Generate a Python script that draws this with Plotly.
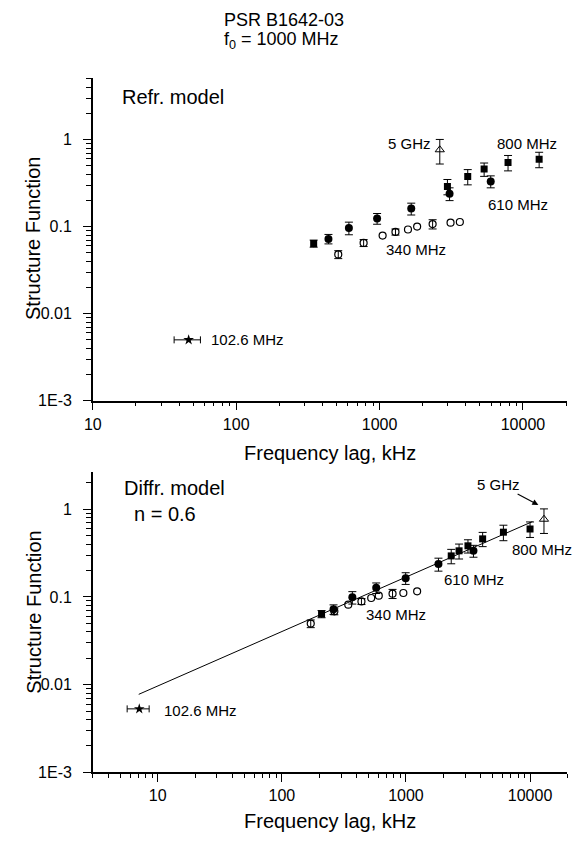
import plotly.graph_objects as go

# ---- top panel: refractive model ----
refr_sq_x = [347, 2973, 4120, 5360, 7870, 12970]          # 800 MHz
refr_sq_y = [0.064, 0.29, 0.377, 0.458, 0.547, 0.595]
refr_sq_err = [0.006, 0.058, 0.075, 0.08, 0.11, 0.12]

refr_fc_x = [440, 611, 961, 1663, 3077, 5960]              # 610 MHz
refr_fc_y = [0.0723, 0.0966, 0.124, 0.161, 0.239, 0.331]
refr_fc_err = [0.009, 0.016, 0.0175, 0.025, 0.04, 0.052]

refr_oc_x = [515, 774, 1050, 1291, 1578, 1828, 2344, 3126, 3630]   # 340 MHz
refr_oc_y = [0.0479, 0.065, 0.079, 0.0869, 0.0927, 0.100, 0.107, 0.111, 0.113]
refr_oc_err = [0.005, 0.006, None, 0.007, None, None, 0.013, None, None]

refr_tri_x = [2630]                                        # 5 GHz
refr_tri_y = [0.764]
refr_tri_err = [0.24]

refr_star_x = [46.6]                                       # 102.6 MHz
refr_star_y = [0.0050]
refr_star_xerr = [9.7]

# ---- bottom panel: diffractive model, n = 0.6 ----
diff_sq_x = [209, 2317, 2680, 3160, 4150, 6100, 10000]
diff_sq_y = [0.064, 0.294, 0.336, 0.383, 0.46, 0.548, 0.597]
diff_sq_err = [0.006, 0.055, 0.065, 0.066, 0.085, 0.11, 0.12]

diff_fc_x = [261, 370, 576, 995, 1828, 3500]
diff_fc_y = [0.0723, 0.099, 0.127, 0.164, 0.237, 0.336]
diff_fc_err = [0.009, 0.016, 0.0175, 0.025, 0.04, 0.052]

diff_oc_x = [171, 265, 343, 438, 525, 604, 780, 953, 1231]
diff_oc_y = [0.0497, 0.0686, 0.0817, 0.089, 0.0974, 0.1035, 0.109, 0.111, 0.116]
diff_oc_err = [0.005, 0.006, None, 0.007, None, None, 0.013, None, None]

diff_tri_x = [12950]
diff_tri_y = [0.77]
diff_tri_err = [0.24]

diff_star_x = [7.1]
diff_star_y = [0.0053]
diff_star_xerr = [1.43]

fit_x = [7.03, 10450]
fit_y = [0.00776, 0.723]

x_ticks = [10, 100, 1000, 10000]
x_ticktext = ["10", "100", "1000", "10000"]
y_ticks = [0.001, 0.01, 0.1, 1]
y_ticktext = ["1E-3", "0.01", "0.1", "1"]

FONT = "Liberation Sans, Arial, sans-serif"
W, H = 585, 843

minor_x = [m * 10 ** e for e in range(0, 5) for m in range(2, 10)]
minor_y = [m * 10 ** e for e in range(-3, 1) for m in range(2, 10)]


def px(x, y):
    # screen pixel -> paper coords (the page is drawn slightly offset)
    dx = -13
    dy = -6 + 6 * y / 822
    return (x + dx) / W, 1 - (y + dy) / H


def err(vals, w=4):
    return dict(type="data", array=vals, color="black", thickness=1, width=w)


def add_panel(fig, xa, ya, sq, fc, oc, tri, star):
    common = dict(xaxis=xa, yaxis=ya, showlegend=False, mode="markers")
    oc_marker = dict(symbol="circle-open", size=7, color="black", line=dict(width=1.2))
    # open circles: those with error bars and those without
    with_e = [i for i, e in enumerate(oc[2]) if e is not None]
    no_e = [i for i, e in enumerate(oc[2]) if e is None]
    fig.add_trace(go.Scatter(x=[oc[0][i] for i in with_e], y=[oc[1][i] for i in with_e],
                             error_y=err([oc[2][i] for i in with_e]),
                             marker=oc_marker, **common))
    fig.add_trace(go.Scatter(x=[oc[0][i] for i in no_e], y=[oc[1][i] for i in no_e],
                             marker=oc_marker, **common))
    fig.add_trace(go.Scatter(x=fc[0], y=fc[1], error_y=err(fc[2]),
                             marker=dict(symbol="circle", size=8, color="black"), **common))
    fig.add_trace(go.Scatter(x=sq[0], y=sq[1], error_y=err(sq[2]),
                             marker=dict(symbol="square", size=7, color="black"), **common))
    fig.add_trace(go.Scatter(x=tri[0], y=tri[1], error_y=err(tri[2]),
                             marker=dict(symbol="triangle-up-open", size=8, color="black",
                                         line=dict(width=1)), **common))
    fig.add_trace(go.Scatter(x=star[0], y=star[1], error_x=err(star[2], 3.5),
                             marker=dict(symbol="star", size=8, color="black"), **common))


fig = go.Figure()
add_panel(fig, "x", "y",
          (refr_sq_x, refr_sq_y, refr_sq_err),
          (refr_fc_x, refr_fc_y, refr_fc_err),
          (refr_oc_x, refr_oc_y, refr_oc_err),
          (refr_tri_x, refr_tri_y, refr_tri_err),
          (refr_star_x, refr_star_y, refr_star_xerr))
fig.add_trace(go.Scatter(x=fit_x, y=fit_y, mode="lines", xaxis="x2", yaxis="y2",
                         line=dict(color="black", width=1), showlegend=False))
add_panel(fig, "x2", "y2",
          (diff_sq_x, diff_sq_y, diff_sq_err),
          (diff_fc_x, diff_fc_y, diff_fc_err),
          (diff_oc_x, diff_oc_y, diff_oc_err),
          (diff_tri_x, diff_tri_y, diff_tri_err),
          (diff_star_x, diff_star_y, diff_star_xerr))

axis_style = dict(type="log", showline=True, linecolor="black", linewidth=1.5,
                  showgrid=False, zeroline=False, ticks="outside", ticklen=8,
                  tickwidth=1.3, tickcolor="black", tickfont=dict(size=16, color="black"))
xstyle = dict(axis_style, tickmode="array", tickvals=x_ticks, ticktext=x_ticktext,
              minor=dict(tickvals=minor_x, ticks="outside", ticklen=4,
                         tickwidth=1.2, tickcolor="black"))
ystyle = dict(axis_style, tickmode="array", tickvals=y_ticks, ticktext=y_ticktext,
              ticklabelstandoff=8,
              minor=dict(tickvals=minor_y, ticks="outside", ticklen=5,
                         tickwidth=1.2, tickcolor="black"))

x0, _ = px(90, 0)
x1, _ = px(572, 0)
_, top_hi = px(0, 76)
_, top_lo = px(0, 400)
_, bot_hi = px(0, 472)
_, bot_lo = px(0, 773)

fig.update_layout(
    width=W, height=H,
    margin=dict(l=0, r=0, t=0, b=0),
    paper_bgcolor="white", plot_bgcolor="white",
    font=dict(family=FONT, color="black"),
    xaxis=dict(xstyle, domain=[x0, x1], range=[1, 4.31], anchor="y"),
    yaxis=dict(ystyle, domain=[top_lo, top_hi], range=[-3, 0.71], anchor="x"),
    xaxis2=dict(xstyle, domain=[x0, x1], range=[0.477, 4.301], anchor="y2"),
    yaxis2=dict(ystyle, domain=[bot_lo, bot_hi], range=[-3, 0.42], anchor="x2"),
)

ann = []


def paper_text(text, x, y, size, xanchor="center", angle=0):
    ax, ay = px(x, y)
    ann.append(dict(text=text, xref="paper", yref="paper", x=ax, y=ay, showarrow=False,
                    font=dict(size=size), xanchor=xanchor, yanchor="middle",
                    textangle=angle))


# titles
ann.append(dict(text="PSR B1642-03", xref="paper", yref="paper", x=px(284, 0)[0], y=1,
                showarrow=False, font=dict(size=18), xanchor="center", yanchor="top"))
paper_text("f<sub>0</sub> = 1000 MHz", 282, 39, 18)
# axis titles
paper_text("Frequency lag, kHz", 331, 453, 20)
paper_text("Frequency lag, kHz", 331, 822, 20)
paper_text("Structure Function", 30, 237, 20, angle=-90)
paper_text("Structure Function", 30, 612, 20, angle=-90)
# model labels
paper_text("Refr. model", 118, 95, 20, "left")
paper_text("Diffr. model", 120, 488, 20, "left")
paper_text("n = 0.6", 130, 514, 20, "left")

# series labels (log10 coordinates)
top_labels = [("5 GHz", 3.370, -0.045, "right"), ("800 MHz", 3.802, -0.045, "left"),
              ("610 MHz", 3.740, -0.743, "left"), ("340 MHz", 3.033, -1.259, "left"),
              ("102.6 MHz", 1.808, -2.301, "left")]
for t, lx, ly, xa in top_labels:
    ann.append(dict(text=t, xref="x", yref="y", x=lx, y=ly, showarrow=False,
                    font=dict(size=15), xanchor=xa, yanchor="middle"))
bot_labels = [("800 MHz", 3.842, -0.4625, "left"),
              ("610 MHz", 3.288, -0.801, "left"), ("340 MHz", 2.663, -1.201, "left"),
              ("102.6 MHz", 1.032, -2.290, "left")]
for t, lx, ly, xa in bot_labels:
    ann.append(dict(text=t, xref="x2", yref="y2", x=lx, y=ly, showarrow=False,
                    font=dict(size=15), xanchor=xa, yanchor="middle"))
# 5 GHz label with arrow pointing at the triangle
ann.append(dict(text="5 GHz", font=dict(size=15), xref="x2", yref="y2", x=4.067, y=0.049,
                axref="x2", ayref="y2", ax=3.747, ay=0.2875, showarrow=True,
                arrowhead=2, arrowsize=1, arrowwidth=1.2, arrowcolor="black"))

fig.update_layout(annotations=ann)

fig.write_html("out.html")
